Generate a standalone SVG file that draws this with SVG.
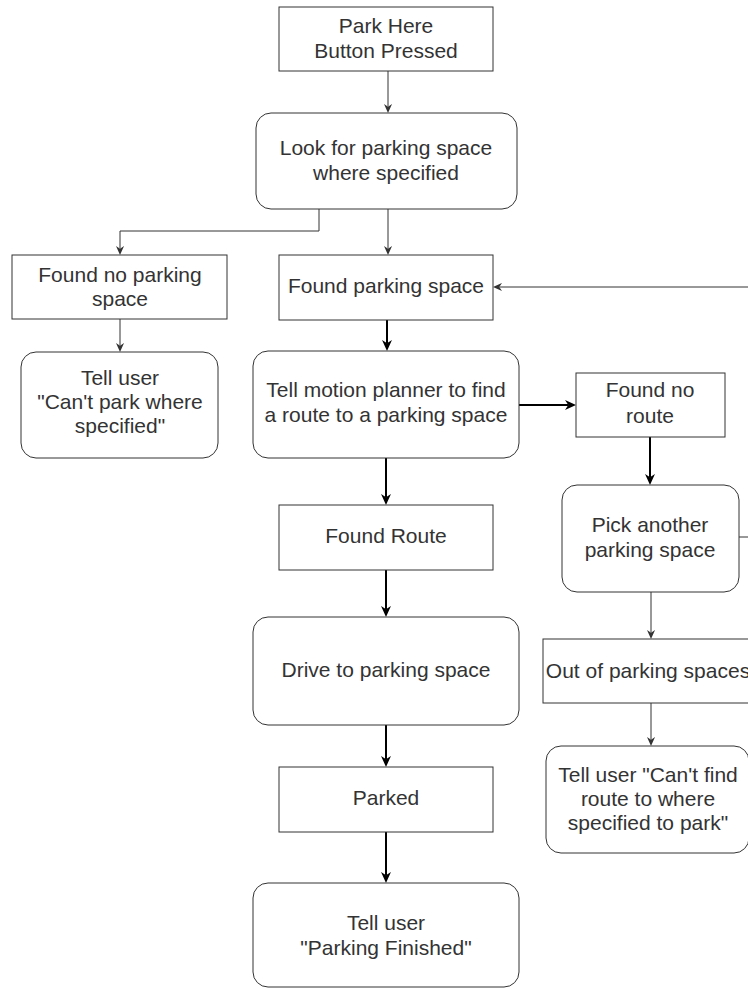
<svg xmlns="http://www.w3.org/2000/svg" width="748" height="989" viewBox="0 0 748 989">
  <style>
    .box { fill: #ffffff; stroke: #333333; stroke-width: 1; }
    .lbl { font-family: "Liberation Sans", Arial, Helvetica, sans-serif; font-size: 21px; fill: #333333; text-anchor: middle; }
    .thin { fill: none; stroke: #333333; stroke-width: 1; }
    .thick { fill: none; stroke: #000000; stroke-width: 2; }
  </style>
  <defs>
    <marker id="arrowThin" viewBox="0 0 10 10" refX="3" refY="5" markerWidth="9" markerHeight="9" markerUnits="userSpaceOnUse" orient="auto">
      <path d="M0,0.5 L10,5 L0,9.5 L3,5 Z" fill="#333333"/>
    </marker>
    <marker id="arrowThick" viewBox="0 0 10 10" refX="3" refY="5" markerWidth="11" markerHeight="11" markerUnits="userSpaceOnUse" orient="auto">
      <path d="M0,0.5 L10,5 L0,9.5 L3,5 Z" fill="#000000"/>
    </marker>
  </defs>

  <rect width="748" height="989" fill="#ffffff"/>

  <g id="connectors">
    <path class="thin" d="M388,71 V106.7" marker-end="url(#arrowThin)"/>
    <path class="thin" d="M388,209 V248.7" marker-end="url(#arrowThin)"/>
    <path class="thin" d="M319,209 V231 H120 V248.7" marker-end="url(#arrowThin)"/>
    <path class="thin" d="M120,319 V345.7" marker-end="url(#arrowThin)"/>
    <path class="thin" d="M651,592 V632.7" marker-end="url(#arrowThin)"/>
    <path class="thin" d="M651,703 V739.7" marker-end="url(#arrowThin)"/>
    <path class="thin" d="M739,537 H770 V287 H499.3" marker-end="url(#arrowThin)"/>
    <path class="thick" d="M387,320 V343.3" marker-end="url(#arrowThick)"/>
    <path class="thick" d="M519,405 H568.3" marker-end="url(#arrowThick)"/>
    <path class="thick" d="M650,437 V477.3" marker-end="url(#arrowThick)"/>
    <path class="thick" d="M386,458 V497.3" marker-end="url(#arrowThick)"/>
    <path class="thick" d="M386,570 V609.3" marker-end="url(#arrowThick)"/>
    <path class="thick" d="M386,725 V759.3" marker-end="url(#arrowThick)"/>
    <path class="thick" d="M386,832 V875.3" marker-end="url(#arrowThick)"/>
  </g>

  <g id="park-here">
    <rect class="box" x="279" y="7" width="214" height="64"/>
    <text class="lbl" x="386" y="33">Park Here</text>
    <text class="lbl" x="386" y="58">Button Pressed</text>
  </g>

  <g id="look-for-space">
    <rect class="box" x="256" y="113" width="261" height="96" rx="15" ry="15"/>
    <text class="lbl" x="386" y="155">Look for parking space</text>
    <text class="lbl" x="386" y="180">where specified</text>
  </g>

  <g id="found-no-space">
    <rect class="box" x="12" y="255" width="215" height="64"/>
    <text class="lbl" x="120" y="282">Found no parking</text>
    <text class="lbl" x="120" y="306">space</text>
  </g>

  <g id="tell-cant-park">
    <rect class="box" x="21" y="352" width="197" height="106" rx="15" ry="15"/>
    <text class="lbl" x="120" y="385">Tell user</text>
    <text class="lbl" x="120" y="409">"Can't park where</text>
    <text class="lbl" x="120" y="433">specified"</text>
  </g>

  <g id="found-space">
    <rect class="box" x="279" y="255" width="214" height="65"/>
    <text class="lbl" x="386" y="293">Found parking space</text>
  </g>

  <g id="tell-planner">
    <rect class="box" x="253" y="351" width="266" height="107" rx="15" ry="15"/>
    <text class="lbl" x="386" y="397">Tell motion planner to find</text>
    <text class="lbl" x="386" y="422">a route to a parking space</text>
  </g>

  <g id="found-no-route">
    <rect class="box" x="576" y="373" width="149" height="64"/>
    <text class="lbl" x="650" y="397">Found no</text>
    <text class="lbl" x="650" y="423">route</text>
  </g>

  <g id="pick-another">
    <rect class="box" x="562" y="485" width="177" height="107" rx="15" ry="15"/>
    <text class="lbl" x="650" y="532">Pick another</text>
    <text class="lbl" x="650" y="557">parking space</text>
  </g>

  <g id="out-of-spaces">
    <rect class="box" x="543" y="639" width="215" height="64"/>
    <text class="lbl" x="648" y="678">Out of parking spaces</text>
  </g>

  <g id="tell-cant-route">
    <rect class="box" x="546" y="746" width="203" height="107" rx="15" ry="15"/>
    <text class="lbl" x="648" y="782">Tell user "Can't find</text>
    <text class="lbl" x="648" y="806">route to where</text>
    <text class="lbl" x="648" y="830">specified to park"</text>
  </g>

  <g id="found-route">
    <rect class="box" x="279" y="505" width="214" height="65"/>
    <text class="lbl" x="386" y="543">Found Route</text>
  </g>

  <g id="drive">
    <rect class="box" x="253" y="617" width="266" height="108" rx="15" ry="15"/>
    <text class="lbl" x="386" y="677">Drive to parking space</text>
  </g>

  <g id="parked">
    <rect class="box" x="279" y="767" width="214" height="65"/>
    <text class="lbl" x="386" y="805">Parked</text>
  </g>

  <g id="tell-finished">
    <rect class="box" x="253" y="883" width="266" height="104" rx="15" ry="15"/>
    <text class="lbl" x="386" y="930">Tell user</text>
    <text class="lbl" x="386" y="955">"Parking Finished"</text>
  </g>
</svg>
